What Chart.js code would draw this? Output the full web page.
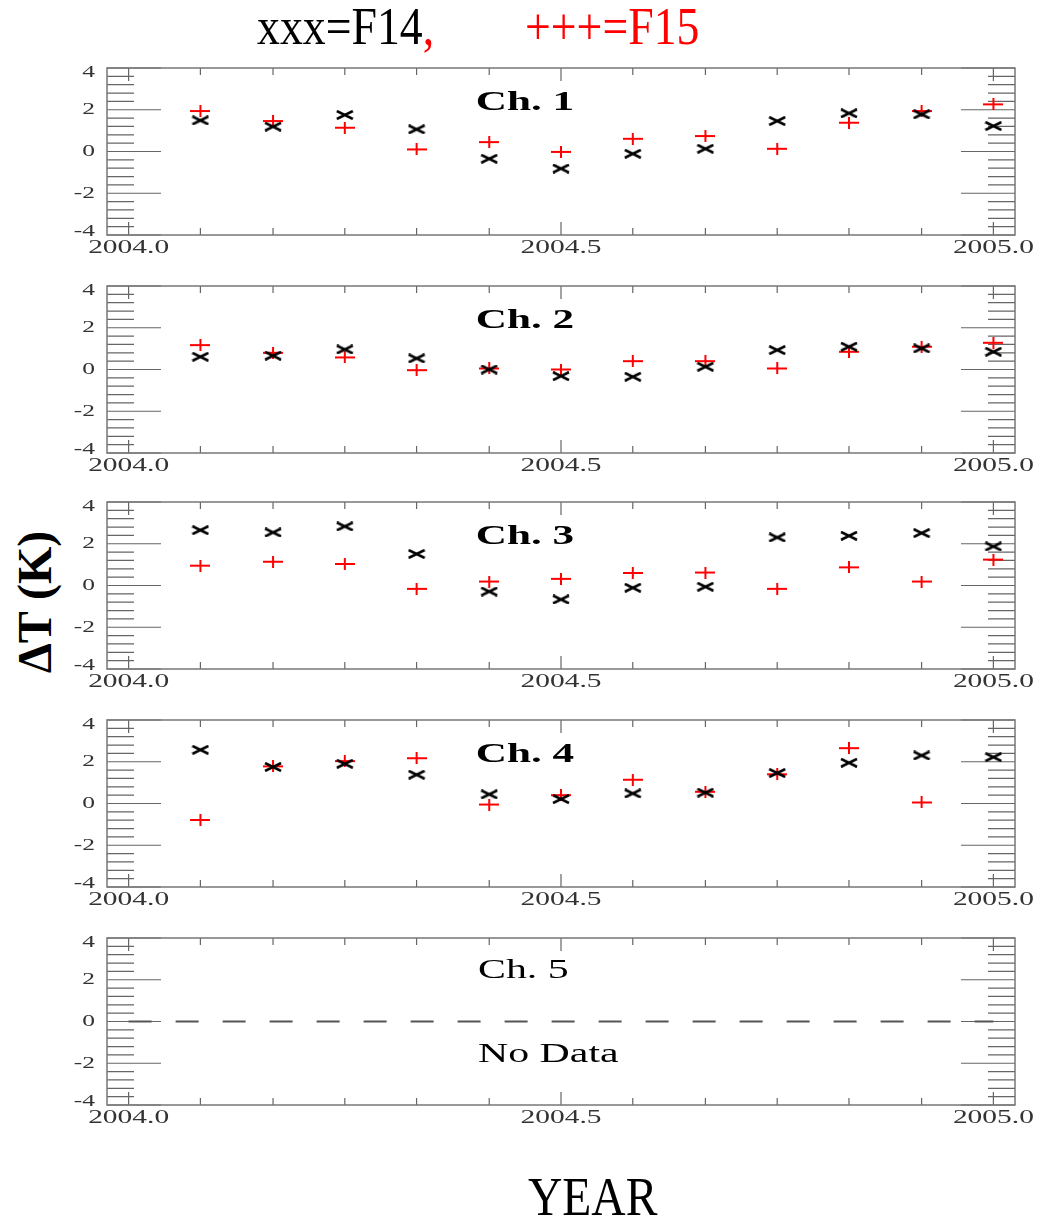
<!DOCTYPE html>
<html>
<head>
<meta charset="utf-8">
<script src="https://cdn.jsdelivr.net/npm/chart.js@4.4.0/dist/chart.umd.min.js"></script>
<style>
    body { margin: 0; background: #fff; }
    #page { position: relative; width: 1040px; height: 1218px; overflow: hidden; font-family: "Liberation Serif", serif; }
    #page canvas { position: absolute; left: 0; }
    .txt { position: absolute; white-space: pre; line-height: 1; }
    .narrow { transform: scaleX(0.88); transform-origin: left top; }
</style>
</head>
<body>
<div id="page">
    <div class="txt narrow" style="left:257px; top:1px; font-size:52px; color:#000;">xxx=F14<span style="color:#f00">,</span></div>
    <div class="txt narrow" style="left:525px; top:1px; font-size:52px; color:#f00;">+++=F15</div>
    <div class="txt" style="left:35px; top:602px; font-size:48px; font-weight:bold; transform: translate(-50%, -50%) rotate(-90deg);">ΔT (K)</div>
    <div class="txt narrow" style="left:528px; top:1170px; font-size:54px;">YEAR</div>
    <canvas id="ch1" width="1040" height="217"></canvas>
    <canvas id="ch2" width="1040" height="217"></canvas>
    <canvas id="ch3" width="1040" height="217"></canvas>
    <canvas id="ch4" width="1040" height="217"></canvas>
    <canvas id="ch5" width="1040" height="217"></canvas>
</div>
<script>
const months = [2004.083, 2004.167, 2004.25, 2004.333, 2004.417, 2004.5, 2004.583, 2004.667, 2004.75, 2004.833, 2004.917, 2005.0];

const ch1F14 = [1.49, 1.19, 1.75, 1.06, -0.35, -0.82, -0.11, 0.13, 1.46, 1.83, 1.78, 1.22];
const ch1F15 = [1.94, 1.46, 1.14, 0.1, 0.45, -0.02, 0.61, 0.74, 0.13, 1.38, 1.94, 2.26];
const ch2F14 = [0.61, 0.66, 0.96, 0.53, 0.0, -0.32, -0.35, 0.13, 0.93, 1.09, 1.01, 0.85];
const ch2F15 = [1.17, 0.8, 0.58, -0.03, 0.05, 0.0, 0.4, 0.4, 0.05, 0.85, 1.09, 1.28];
const ch3F14 = [2.65, 2.54, 2.83, 1.51, -0.29, -0.67, -0.11, -0.06, 2.3, 2.38, 2.51, 1.87];
const ch3F15 = [0.95, 1.14, 1.03, -0.16, 0.19, 0.32, 0.6, 0.62, -0.16, 0.87, 0.19, 1.24];
const ch4F14 = [2.57, 1.75, 1.9, 1.38, 0.44, 0.21, 0.48, 0.52, 1.46, 1.95, 2.3, 2.22];
const ch4F15 = [-0.79, 1.78, 2.03, 2.17, -0.05, 0.4, 1.14, 0.56, 1.4, 2.65, 0.05, null];
// channel 5 has no data, only the dashed zero line
const ch5LineX = [2004.0, 2005.0];
const ch5LineY = [0, 0];

const yTickValues = [-4, -2, 0, 2, 4];
const yTickLabels = ["-4", "-2", "0", "2", "4"];
const yMinorTicks = [-3.6, -3.2, -2.8, -2.4, -1.6, -1.2, -0.8, -0.4, 0.4, 0.8, 1.2, 1.6, 2.4, 2.8, 3.2, 3.6];
const xTickValues = [2004.0, 2004.5, 2005.0];
const xTickLabels = ["2004.0", "2004.5", "2005.0"];

const panelTops = [48, 266, 482, 700, 918];

function makeCross() {
    const c = document.createElement("canvas");
    c.width = 18;
    c.height = 10;
    const g = c.getContext("2d");
    g.strokeStyle = "#000";
    g.lineWidth = 2.6;
    g.beginPath();
    g.moveTo(1, 1);
    g.lineTo(17, 9);
    g.moveTo(1, 9);
    g.lineTo(17, 1);
    g.stroke();
    return c;
}

function makePlus() {
    const c = document.createElement("canvas");
    c.width = 20;
    c.height = 12;
    const g = c.getContext("2d");
    g.strokeStyle = "#f00";
    g.lineWidth = 2;
    g.beginPath();
    g.moveTo(0, 6);
    g.lineTo(20, 6);
    g.moveTo(10, 0);
    g.lineTo(10, 12);
    g.stroke();
    return c;
}

const crossMark = makeCross();
const plusMark = makePlus();

function stretchText(ctx, text, x, y, sx, align) {
    ctx.save();
    ctx.translate(x, y);
    ctx.scale(sx, 1);
    ctx.textAlign = align;
    ctx.textBaseline = "middle";
    ctx.fillText(text, 0, 0);
    ctx.restore();
}

const frameTicks = {
    id: "frameTicks",
    beforeDatasetsDraw(chart, args, opts) {
        const { ctx, chartArea: a } = chart;
        const x = chart.scales.x;
        const y = chart.scales.y;
        ctx.save();
        ctx.strokeStyle = "#666";
        ctx.lineWidth = 1.2;
        ctx.beginPath();
        yMinorTicks.forEach((v) => {
            const py = y.getPixelForValue(v);
            ctx.moveTo(a.left, py);
            ctx.lineTo(a.left + 27, py);
            ctx.moveTo(a.right, py);
            ctx.lineTo(a.right - 27, py);
        });
        yTickValues.forEach((v) => {
            const py = y.getPixelForValue(v);
            ctx.moveTo(a.left, py);
            ctx.lineTo(a.left + 54, py);
            ctx.moveTo(a.right, py);
            ctx.lineTo(a.right - 54, py);
        });
        months.forEach((v) => {
            const px = x.getPixelForValue(v);
            ctx.moveTo(px, a.top);
            ctx.lineTo(px, a.top + 7);
            ctx.moveTo(px, a.bottom);
            ctx.lineTo(px, a.bottom - 7);
        });
        xTickValues.forEach((v) => {
            const px = x.getPixelForValue(v);
            ctx.moveTo(px, a.top);
            ctx.lineTo(px, a.top + 13);
            ctx.moveTo(px, a.bottom);
            ctx.lineTo(px, a.bottom - 13);
        });
        ctx.stroke();

        ctx.strokeStyle = "#777";
        ctx.lineWidth = 1.5;
        ctx.strokeRect(a.left, a.top, a.right - a.left, a.bottom - a.top);

        ctx.fillStyle = "#333";
        ctx.font = "17px 'Liberation Serif'";
        yTickValues.forEach((v, i) => {
            let py = y.getPixelForValue(v);
            if (v === 4) py += 5;
            if (v === -4) py -= 3;
            stretchText(ctx, yTickLabels[i], 95, py, 1.5, "right");
        });
        ctx.font = "19px 'Liberation Serif'";
        xTickValues.forEach((v, i) => {
            stretchText(ctx, xTickLabels[i], x.getPixelForValue(v), a.bottom + 13, 1.55, "center");
        });

        ctx.fillStyle = "#000";
        ctx.font = (opts.bold ? "bold " : "") + "27px 'Liberation Serif'";
        if (opts.note) {
            stretchText(ctx, opts.title, 478, a.top + 33, 1.55, "left");
            stretchText(ctx, opts.note, 478, y.getPixelForValue(0) + 33, 1.55, "left");
        } else {
            stretchText(ctx, opts.title, 525, a.top + 35, 1.6, "center");
        }
        ctx.restore();
    },
};

function toPoints(xs, ys) {
    return xs.map((v, i) => ({ x: v, y: ys[i] }));
}

function makePanel(id, top, title, datasets, bold, note) {
    const canvas = document.getElementById(id);
    canvas.style.top = top + "px";
    return new Chart(canvas, {
        type: "scatter",
        data: { datasets: datasets },
        options: {
            responsive: false,
            animation: false,
            devicePixelRatio: 1,
            layout: { padding: { left: 107, right: 25, top: 20, bottom: 30 } },
            plugins: {
                legend: { display: false },
                tooltip: { enabled: false },
                frameTicks: { title: title, bold: bold, note: note },
            },
            scales: {
                x: { type: "linear", min: 2003.975, max: 2005.025, display: false },
                y: { type: "linear", min: -4, max: 4, display: false },
            },
        },
        plugins: [frameTicks],
    });
}

function markDatasets(f14, f15) {
    return [
        {
            label: "F14",
            data: toPoints(months, f14),
            pointStyle: crossMark,
            pointRadius: 5,
        },
        {
            label: "F15",
            data: toPoints(months, f15),
            pointStyle: plusMark,
            pointRadius: 5,
        },
    ];
}

makePanel("ch1", panelTops[0], "Ch. 1", markDatasets(ch1F14, ch1F15), true);
makePanel("ch2", panelTops[1], "Ch. 2", markDatasets(ch2F14, ch2F15), true);
makePanel("ch3", panelTops[2], "Ch. 3", markDatasets(ch3F14, ch3F15), true);
makePanel("ch4", panelTops[3], "Ch. 4", markDatasets(ch4F14, ch4F15), true);
makePanel(
    "ch5",
    panelTops[4],
    "Ch. 5",
    [
        {
            label: "zero",
            data: toPoints(ch5LineX, ch5LineY),
            showLine: true,
            borderColor: "#555",
            borderWidth: 2,
            borderDash: [23, 24],
            pointRadius: 0,
        },
    ],
    false,
    "No Data",
);
</script>
</body>
</html>
